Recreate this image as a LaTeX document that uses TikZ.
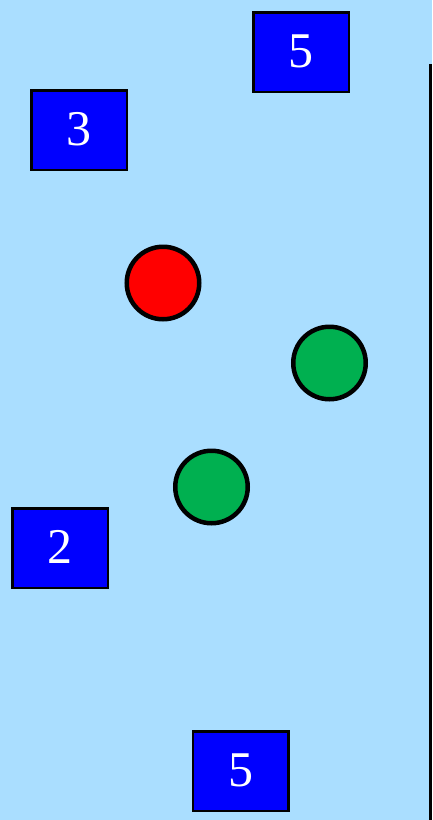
\documentclass[tikz,border=0pt]{standalone}
\usepackage{fontspec}
\setmainfont{Liberation Serif}
\definecolor{bg}{HTML}{AADEFF}
\definecolor{boxblue}{HTML}{0000FF}
\definecolor{dotgreen}{HTML}{00B050}
\definecolor{dotred}{HTML}{FF0000}
\begin{document}
\begin{tikzpicture}[x=1pt,y=-1pt,
  numbox/.style={draw=black,line width=2.5pt,fill=boxblue,text=white,minimum width=95.5pt,minimum height=79.5pt,inner sep=0pt,font=\fontsize{50}{50}\selectfont},
  dot/.style={circle,draw=black,line width=4.5pt,minimum size=72.5pt,inner sep=0pt}]
\fill[bg] (0,0) rectangle (432,820);
\useasboundingbox (0,0) rectangle (432,820);
\node[numbox] (b5top) at (301,52) {\raisebox{1.5pt}{5}};
\node[numbox] (b3) at (79,130) {\raisebox{1.5pt}{3}};
\node[numbox] (b2) at (60,548) {\raisebox{1.5pt}{2}};
\node[numbox] (b5bot) at (240.5,771) {\raisebox{1.5pt}{5}};
\node[dot,fill=dotred] (r1) at (163,283) {};
\node[dot,fill=dotgreen] (g1) at (329.5,363) {};
\node[dot,fill=dotgreen] (g2) at (211.5,487) {};
\fill[black] (429,64) rectangle (432,820);
\end{tikzpicture}
\end{document}
